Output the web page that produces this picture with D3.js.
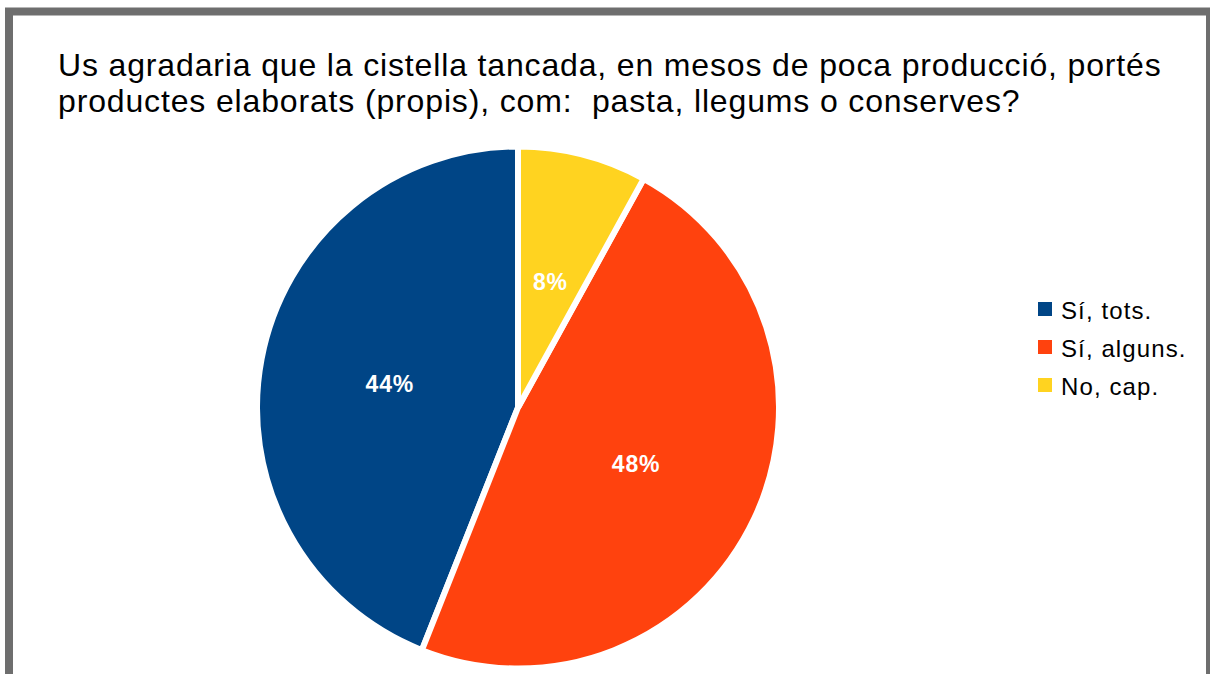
<!DOCTYPE html>
<html>
<head>
<meta charset="utf-8">
<script src="https://cdn.jsdelivr.net/npm/d3@7"></script>
<style>
  body { margin: 0; background: #fff; }
  svg { display: block; }
</style>
</head>
<body>
<script>
let w = 1210;
let h = 674;

let categories = ["Sí, tots.", "Sí, alguns.", "No, cap."];
let values = [44, 48, 8];
let colors = ["#004586", "#ff420e", "#ffd320"];
let titleLines = [
  "Us agradaria que la cistella tancada, en mesos de poca producció, portés",
  "productes elaborats (propis), com:  pasta, llegums o conserves?"
];

let svg = d3.select("body")
  .append("svg")
  .attr("width", w)
  .attr("height", h);

//Frame
svg.append("rect")
  .attr("x", 9)
  .attr("y", 11.5)
  .attr("width", 1201)
  .attr("height", 700)
  .attr("fill", "#fff")
  .attr("stroke", "#6e6e6e")
  .attr("stroke-width", 8);

//Title
svg.append("g")
  .selectAll("text")
  .data(titleLines)
  .enter()
  .append("text")
  .attr("x", 58)
  .attr("y", (_, i) => 76 + i * 36)
  .attr("font-family", "'Liberation Sans', Arial, sans-serif")
  .attr("font-size", "32px")
  .attr("letter-spacing", "0.85px")
  .attr("fill", "#000")
  .style("white-space", "pre")
  .text(d => d);

//Pie (white stroke eats half its width from the outer edge)
let cx = 518, cy = 407.5, r = 261;

let pie = d3.pie()
  .sort(null)
  .startAngle(0)
  .endAngle(-2 * Math.PI)
  .value(d => d);

let arc = d3.arc()
  .innerRadius(0)
  .outerRadius(r);

let arcs = pie(values);

let g = svg.append("g")
  .attr("transform", "translate(" + cx + "," + cy + ")");

g.selectAll("path")
  .data(arcs)
  .enter()
  .append("path")
  .attr("d", arc)
  .attr("fill", (_, i) => colors[i])
  .attr("stroke", "#fff")
  .attr("stroke-width", 6)
  .attr("stroke-linejoin", "miter");

g.selectAll("text")
  .data(arcs)
  .enter()
  .append("text")
  .attr("transform", d => "translate(" + arc.centroid(d) + ")")
  .attr("text-anchor", "middle")
  .attr("dy", "0.38em")
  .attr("font-family", "'Liberation Sans', Arial, sans-serif")
  .attr("font-size", "23px")
  .attr("letter-spacing", "0.8px")
  .attr("font-weight", "bold")
  .attr("fill", "#fff")
  .text(d => d.data + "%");

//Legend
let legend = svg.append("g")
  .attr("transform", "translate(1038, 302)");

let rows = legend.selectAll("g")
  .data(categories)
  .enter()
  .append("g")
  .attr("transform", (_, i) => "translate(0," + i * 38 + ")");

rows.append("rect")
  .attr("width", 14)
  .attr("height", 14)
  .attr("fill", (_, i) => colors[i]);

rows.append("text")
  .attr("x", 23)
  .attr("y", 17)
  .attr("font-family", "'Liberation Sans', Arial, sans-serif")
  .attr("font-size", "24px")
  .attr("letter-spacing", "1.1px")
  .attr("fill", "#000")
  .text(d => d);
</script>
</body>
</html>
